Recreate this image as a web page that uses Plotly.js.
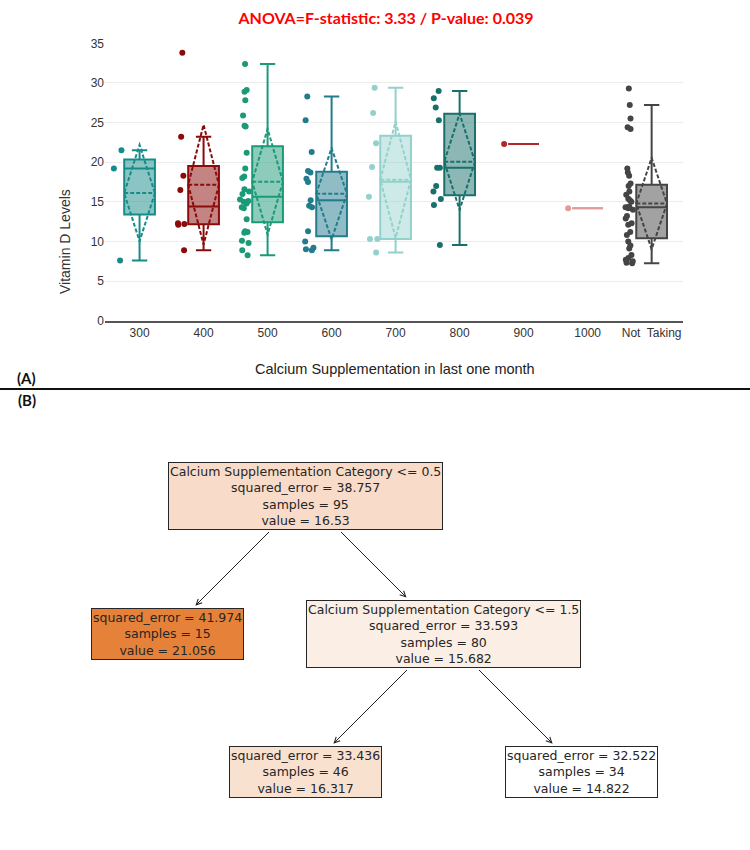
<!DOCTYPE html>
<html><head><meta charset="utf-8">
<script src="https://cdn.plot.ly/plotly-3.0.1.min.js"></script>
<style>html,body{margin:0;padding:0;background:#fff}#chart{width:750px;height:850px}</style>
</head><body><div id="chart"></div>
<script>
// ---------- Panel A data ----------
const categories = ['300','400','500','600','700','800','900','1000','Not\u00a0 Taking'];
const vit300 = [21.5, 19.2, 7.6];
const vit400 = [33.8, 23.2, 18.3, 16.5, 12.3, 12.2, 12.1, 8.9];
const vit500 = [32.4, 29.1, 28.9, 27.8, 25.9, 24.6, 24.5, 21.2, 19.2, 18.2, 18.0, 16.6, 16.3, 16.0, 15.3, 15.1, 15.0, 14.8, 14.3, 14.2, 12.8, 11.3, 11.2, 11.1, 10.1, 9.8, 8.9, 8.25];
const vit600 = [28.3, 25.3, 21.3, 18.9, 18.7, 17.9, 17.5, 15.2, 14.5, 14.3, 11.3, 10.0, 9.2, 9.0, 8.9];
const vit700 = [29.4, 26.2, 22.4, 19.4, 15.65, 10.3, 10.3, 8.6];
const vit800 = [28.98, 28.06, 26.9, 25.3, 19.3, 19.3, 17.0, 16.3, 15.35, 14.6, 9.55];
const vit900 = [22.3];
const vit1000 = [14.2];
const vitNotTaking = [29.3, 27.2, 25.5, 24.4, 24.2, 19.2, 18.7, 18.3, 17.3, 17.0, 16.3, 15.9, 15.4, 15.2, 15.0, 14.4, 14.3, 14.3, 14.2, 14.0, 13.2, 12.9, 12.3, 12.1, 11.2, 10.8, 10.0, 9.5, 9.1, 8.3, 7.9, 7.7, 7.5, 7.3, 7.24];
const groups = [vit300, vit400, vit500, vit600, vit700, vit800, vit900, vit1000, vitNotTaking];
const anovaTitle = 'ANOVA=F-statistic: 3.33 / P-value: 0.039';

// ---------- Panel B data (regression tree) ----------
const treeFeature = ['Calcium Supplementation Category', null, 'Calcium Supplementation Category', null, null];
const treeThreshold = [0.5, null, 1.5, null, null];
const treeError = [38.757, 41.974, 33.593, 33.436, 32.522];
const treeSamples = [95, 15, 80, 46, 34];
const treeValue = [16.53, 21.056, 15.682, 16.317, 14.822];
const treeLeft = [1, -1, 3, -1, -1];
const treeRight = [2, -1, 4, -1, -1];

// ---------- styles ----------
const lineColors = ['#168c8a','#8b0a0a','#1b9a78','#227c8c','#92d1cc','#19706b','#b0272a','#e29b9b','#454545'];
const fillAlpha = [0.5,0.5,0.5,0.5,0.45,0.5,0.5,0.5,0.5];

function hexToRgba(h, a){
  const r=parseInt(h.slice(1,3),16), g=parseInt(h.slice(3,5),16), b=parseInt(h.slice(5,7),16);
  return `rgba(${r},${g},${b},${a})`;
}
function quant(s, p){
  const pos=(s.length-1)*p, lo=Math.floor(pos), hi=Math.ceil(pos);
  return s[lo]+(s[hi]-s[lo])*(pos-lo);
}
function stats(v){
  const s=[...v].sort((a,b)=>a-b);
  const q1=quant(s,.25), med=quant(s,.5), q3=quant(s,.75), iqr=q3-q1;
  const lf=s.find(x=>x>=q1-1.5*iqr);
  const uf=[...s].reverse().find(x=>x<=q3+1.5*iqr);
  const mean=s.reduce((a,b)=>a+b,0)/s.length;
  const sd=Math.sqrt(s.reduce((a,b)=>a+(b-mean)*(b-mean),0)/s.length);
  return {q1,med,q3,lf,uf,mean,sd};
}

const BOXW = 0.48;
const traces = [];
groups.forEach((v,i)=>{
  const st = stats(v), cat = categories[i];
  traces.push({
    type:'box', x:[cat], q1:[st.q1], median:[st.med], q3:[st.q3],
    lowerfence:[st.lf], upperfence:[st.uf], mean:[st.mean], sd:[st.sd],
    boxmean:'sd', boxpoints:false, width:BOXW,
    line:{color:lineColors[i], width:2}, fillcolor:hexToRgba(lineColors[i], fillAlpha[i]),
    showlegend:false, hoverinfo:'skip'
  });
  traces.push({
    type:'box', x:v.map(()=>cat), y:v, boxpoints:'all', jitter:0.35, pointpos:-1.45, width:BOXW,
    line:{color:'rgba(0,0,0,0)', width:0}, fillcolor:'rgba(0,0,0,0)',
    marker:{color:lineColors[i], size:6}, showlegend:false
  });
});

// ---------- tree layout ----------
function tidy(i){
  if(treeLeft[i] < 0) return {nodes:[[i,0,0]], contour:[[0,0]]};
  const L=tidy(treeLeft[i]), R=tidy(treeRight[i]);
  let sep=0;
  for(let d=0; d<Math.min(L.contour.length,R.contour.length); d++) sep=Math.max(sep, L.contour[d][1]-R.contour[d][0]+2);
  const h=sep/2;
  const nodes=[[i,0,0]];
  L.nodes.forEach(([n,x,d])=>nodes.push([n,x-h,d+1]));
  R.nodes.forEach(([n,x,d])=>nodes.push([n,x+h,d+1]));
  const contour=[[0,0]];
  for(let d=0; d<Math.max(L.contour.length,R.contour.length); d++){
    let mn=Infinity, mx=-Infinity; const a=L.contour[d], b=R.contour[d];
    if(a){mn=Math.min(mn,a[0]-h); mx=Math.max(mx,a[1]-h);}
    if(b){mn=Math.min(mn,b[0]+h); mx=Math.max(mx,b[1]+h);}
    contour.push([mn,mx]);
  }
  return {nodes, contour};
}
const TX0=305, TXS=138, TY0=66, TYS=138, FONT=12.5, LH=FONT*1.3, PAD=1;
const pos = {};
tidy(0).nodes.forEach(([n,x,d])=>{ pos[n]={x:TX0+TXS*x, y:TY0+TYS*d}; });
const vmin=Math.min(...treeValue), vmax=Math.max(...treeValue);
function nodeColor(v){
  const a=(v-vmin)/(vmax-vmin);
  const base=[229,129,57];
  const c=base.map(b=>Math.round(255-(255-b)*a));
  return `rgb(${c[0]},${c[1]},${c[2]})`;
}
function nodeLines(i){
  const L=[];
  if(treeFeature[i]) L.push(`${treeFeature[i]} &lt;= ${treeThreshold[i]}`);
  L.push(`squared_error = ${treeError[i]}`, `samples = ${treeSamples[i]}`, `value = ${treeValue[i]}`);
  return L;
}
const annotations = [];
const halfH = {};
treeValue.forEach((v,i)=>{
  const lines=nodeLines(i);
  halfH[i]=(lines.length*LH+2*PAD+2)/2;
  annotations.push({
    xref:'x2', yref:'y2', x:pos[i].x, y:pos[i].y, xanchor:'center', yanchor:'middle',
    text:lines.join('<br>'), showarrow:false,
    font:{family:'DejaVu Sans', size:FONT, color:'#262626'}, align:'center',
    bgcolor:nodeColor(v), bordercolor:'#262626', borderwidth:1, borderpad:PAD
  });
});
treeValue.forEach((v,i)=>{
  [treeLeft[i], treeRight[i]].forEach(c=>{
    if(c<0) return;
    const p=pos[i], q=pos[c], dx=q.x-p.x, dy=q.y-p.y;
    const sx=p.x+dx*(halfH[i]/dy), sy=p.y+halfH[i];
    const ex=q.x-dx*((halfH[c]+2)/dy), ey=q.y-halfH[c]-2;
    annotations.push({xref:'x2', yref:'y2', axref:'x2', ayref:'y2', x:ex, y:ey, ax:sx, ay:sy,
      text:'', showarrow:true, arrowhead:5, arrowsize:1.1, arrowwidth:1, arrowcolor:'#222'});
  });
});

// text annotations of panel A
annotations.push({xref:'paper', yref:'paper', x:65/750, y:1-242/850, xanchor:'center', yanchor:'middle',
  text:'Vitamin D Levels', textangle:-90,
  showarrow:false, font:{family:'Liberation Sans, Arial', size:14, color:'#333'}});
annotations.push({xref:'paper', yref:'paper', x:395/750, y:1-369/850, xanchor:'center', yanchor:'middle',
  text:'Calcium Supplementation in last one month',
  showarrow:false, font:{family:'Liberation Sans Narrow, Liberation Sans', size:14.5, color:'#222'}});
annotations.push({xref:'paper', yref:'paper', x:27/750, y:1-378/850, xanchor:'center', yanchor:'middle',
  text:'<b>(A)</b>', showarrow:false, font:{family:'Lato', size:15, color:'#111'}});
annotations.push({xref:'paper', yref:'paper', x:27/750, y:1-400/850, xanchor:'center', yanchor:'middle',
  text:'<b>(B)</b>', showarrow:false, font:{family:'Lato', size:15, color:'#111'}});

const tickFont = {family:'Liberation Sans, Arial', size:12, color:'#333'};
const layout = {
  width:750, height:850, margin:{l:0,r:0,t:0,b:0},
  paper_bgcolor:'#fff', plot_bgcolor:'#fff', showlegend:false, boxmode:'overlay',
  title:{text:'<b>'+anovaTitle+'</b>', font:{family:'Lato', size:16, color:'#ff0000'},
    x:386/750, xanchor:'center', xref:'paper', y:1-18/850, yanchor:'middle', yref:'container'},
  xaxis:{domain:[105/750, 683/750], range:[-0.54, 8.49], type:'category', categoryorder:'array',
    categoryarray:categories, showline:true, linecolor:'#555', linewidth:2, showgrid:false,
    zeroline:false, ticks:'', tickfont:tickFont, anchor:'y'},
  yaxis:{domain:[1-320.7/850, 1-43.3/850], range:[0,35], dtick:5, tick0:0, showgrid:true,
    gridcolor:'#ececec', gridwidth:1, zeroline:false, showline:false, ticks:'', tickfont:tickFont, anchor:'x'},
  xaxis2:{domain:[0,1], range:[0,750], visible:false, anchor:'y2', fixedrange:true},
  yaxis2:{domain:[0,420/850], range:[420,0], visible:false, anchor:'x2', fixedrange:true},
  annotations,
  shapes:[{type:'line', xref:'paper', yref:'paper', x0:0, x1:1, y0:1-389/850, y1:1-389/850,
    line:{color:'#111', width:2}}]
};
Plotly.newPlot('chart', traces, layout, {displayModeBar:false, staticPlot:true});
</script></body></html>
